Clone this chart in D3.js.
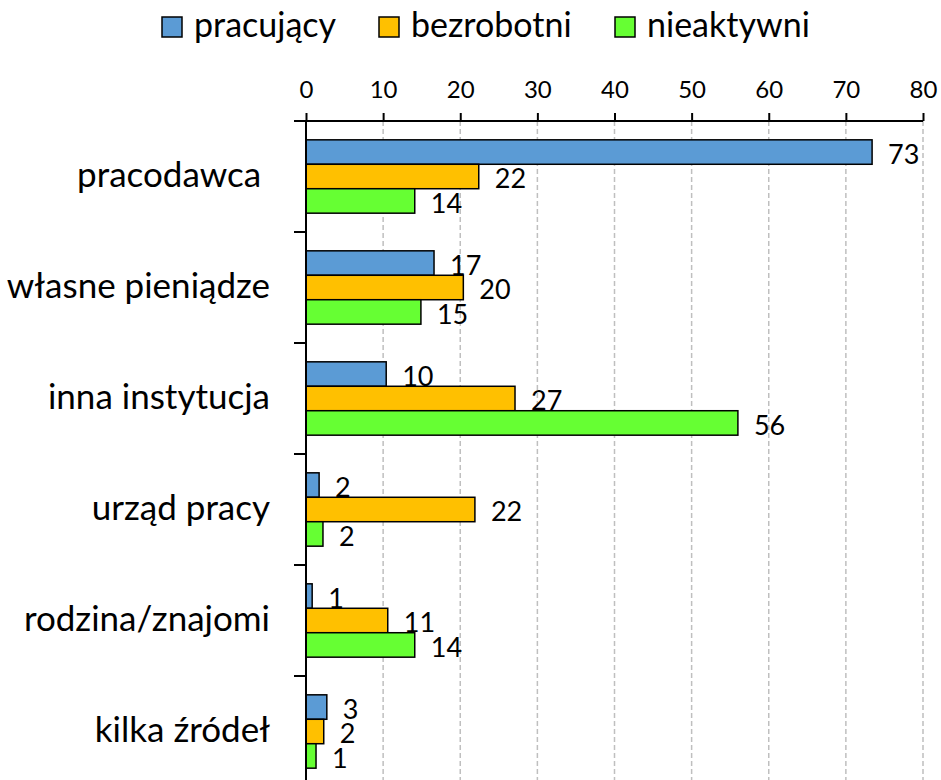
<!DOCTYPE html>
<html>
<head>
<meta charset="utf-8">
<script src="https://cdn.jsdelivr.net/npm/d3@7"></script>
<style>
  body { margin: 0; background: #fff; }
  svg { display: block; font-family: Lato, "Open Sans", sans-serif; }
</style>
</head>
<body>
<script>
// data
var categories = ["pracodawca ", "własne pieniądze", "inna instytucja", "urząd pracy", "rodzina/znajomi", "kilka źródeł"];
var seriesNames = ["pracujący", "bezrobotni", "nieaktywni"];
var seriesColors = ["#5B9BD5", "#FFC000", "#66FF33"];
var pracujacy = [73.4, 16.6, 10.4, 1.7, 0.8, 2.7];
var bezrobotni = [22.4, 20.4, 27.1, 21.9, 10.6, 2.3];
var nieaktywni = [14.1, 14.9, 56.0, 2.2, 14.1, 1.3];
var xTicks = [0, 10, 20, 30, 40, 50, 60, 70, 80];

var width = 941, height = 780;
var margin = {left: 306, top: 121, right: 18};
var seriesValues = [pracujacy, bezrobotni, nieaktywni];

var svg = d3.select("body")
    .append("svg")
    .attr("width", width)
    .attr("height", height);

var x = d3.scaleLinear()
    .domain([0, 80])
    .range([0, 617]);

var y0 = d3.scaleBand()
    .domain(categories)
    .range([0, 111 * categories.length])
    .paddingInner(0)
    .paddingOuter(0);

var y1 = d3.scaleBand()
    .domain(seriesNames)
    .range([0, y0.bandwidth()])
    .paddingInner(0)
    .paddingOuter(0.77);

var g = svg.append("g")
    .attr("transform", "translate(" + margin.left + "," + margin.top + ")");

// dashed grid lines
g.append("g")
    .selectAll("line")
    .data(xTicks.slice(1))
    .enter().append("line")
    .attr("x1", function (d) { return x(d); })
    .attr("x2", function (d) { return x(d); })
    .attr("y1", 0)
    .attr("y2", height)
    .attr("stroke", "#bfbfbf")
    .attr("stroke-width", 1.5)
    .attr("stroke-dasharray", "5,3");

// bars
var groups = g.append("g")
    .selectAll("g")
    .data(categories)
    .enter().append("g")
    .attr("transform", function (d) { return "translate(0," + y0(d) + ")"; });

groups.selectAll("rect")
    .data(function (d, i) {
        return seriesNames.map(function (s, j) {
            return {series: s, value: seriesValues[j][i], color: seriesColors[j]};
        });
    })
    .enter().append("rect")
    .attr("x", 0)
    .attr("y", function (d) { return y1(d.series); })
    .attr("width", function (d) { return x(d.value); })
    .attr("height", y1.bandwidth())
    .attr("fill", function (d) { return d.color; })
    .attr("stroke", "#000")
    .attr("stroke-width", 1.5);

groups.selectAll("text")
    .data(function (d, i) {
        return seriesNames.map(function (s, j) {
            return {series: s, value: seriesValues[j][i]};
        });
    })
    .enter().append("text")
    .attr("x", function (d) { return x(d.value) + 16; })
    .attr("y", function (d) { return y1(d.series) + y1.bandwidth() - 0.5; })
    .attr("font-size", 27)
    .attr("fill", "#000")
    .text(function (d) { return Math.round(d.value); });

// x axis on top
var xAxis = d3.axisTop(x)
    .tickValues(xTicks)
    .tickSize(8)
    .tickPadding(15);

var ax = g.append("g").call(xAxis);
ax.select(".domain").remove();
ax.selectAll(".tick line").attr("stroke", "#000").attr("stroke-width", 2);
ax.selectAll(".tick text")
    .attr("font-size", 24)
    .attr("font-family", "Lato, sans-serif")
    .attr("fill", "#000");

g.append("line")
    .attr("x1", -12)
    .attr("x2", x(80))
    .attr("y1", 0)
    .attr("y2", 0)
    .attr("stroke", "#000")
    .attr("stroke-width", 2);

// y axis
g.append("line")
    .attr("x1", 0)
    .attr("x2", 0)
    .attr("y1", 0)
    .attr("y2", height)
    .attr("stroke", "#000")
    .attr("stroke-width", 2);

g.append("g")
    .selectAll("line")
    .data(categories)
    .enter().append("line")
    .attr("x1", -12)
    .attr("x2", 0)
    .attr("y1", function (d) { return y0(d) + y0.step(); })
    .attr("y2", function (d) { return y0(d) + y0.step(); })
    .attr("stroke", "#000")
    .attr("stroke-width", 2);

g.append("g")
    .selectAll("text")
    .data(categories)
    .enter().append("text")
    .attr("x", -36)
    .attr("y", function (d) { return y0(d) + y0.bandwidth() / 2 + 10; })
    .attr("text-anchor", "end")
    .attr("font-size", 35)
    .style("white-space", "pre")
    .attr("fill", "#000")
    .text(function (d) { return d; });

// legend
var legendX = [162, 379, 615];
var legend = svg.append("g")
    .selectAll("g")
    .data(seriesNames)
    .enter().append("g")
    .attr("transform", function (d, i) { return "translate(" + legendX[i] + ",17)"; });

legend.append("rect")
    .attr("width", 20)
    .attr("height", 20)
    .attr("fill", function (d, i) { return seriesColors[i]; })
    .attr("stroke", "#000")
    .attr("stroke-width", 1.5);

legend.append("text")
    .attr("x", 32)
    .attr("y", 20)
    .attr("font-size", 34)
    .attr("fill", "#000")
    .text(function (d) { return d; });
</script>
</body>
</html>
